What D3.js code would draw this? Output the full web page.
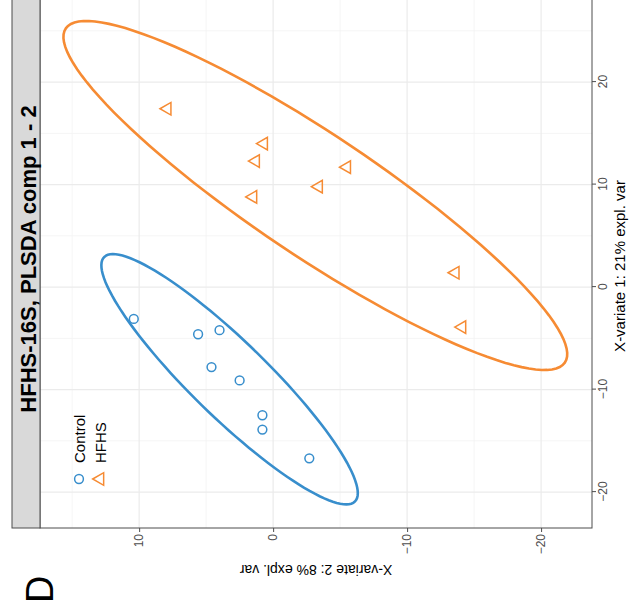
<!DOCTYPE html>
<html>
<head>
<meta charset="utf-8">
<script src="https://cdn.jsdelivr.net/npm/d3@7"></script>
<style>
  body { margin: 0; background: #fff; }
  svg { display: block; font-family: "Liberation Sans", Arial, sans-serif; }
</style>
</head>
<body>
<div id="chart"></div>
<script>
var groups = ["Control", "HFHS"];
var colors = ["#388ECC", "#F68B33"];

// sample scores (comp1 = X-variate 1, comp2 = X-variate 2)
var controlComp1 = [-3.1, -4.6, -4.2, -7.8, -9.1, -12.5, -13.9, -16.7];
var controlComp2 = [10.4, 5.6, 4.0, 4.6, 2.5, 0.8, 0.8, -2.7];
var hfhsComp1 = [17.4, 14.0, 12.3, 8.8, 9.8, 11.7, 1.4, -3.9];
var hfhsComp2 = [7.9, 0.7, 1.3, 1.5, -3.4, -5.5, -13.6, -14.1];

var comp1Ticks = [-20, -10, 0, 10, 20];
var comp2Ticks = [-20, -10, 0, 10];
var comp1Limits = [-23.5, 28.4];
var comp2Limits = [-23.8, 17.4];

var title = "HFHS-16S, PLSDA comp 1 - 2";
var xTitle = "X-variate 1: 21% expl. var";
var yTitle = "X-variate 2: 8% expl. var";

var W = 615, H = 635; // size of the upright plot, before the quarter turn
var pLeft = 87, pRight = 619, pTop = 40, pBottom = 592;

var svg = d3.select("#chart").append("svg")
  .attr("width", H)
  .attr("height", W);

// the figure is printed turned a quarter turn, so build it upright and rotate
var g = svg.append("g").attr("transform", "translate(0," + W + ") rotate(-90)");

var x = d3.scaleLinear().domain(comp1Limits).range([pLeft, pRight]);
var y = d3.scaleLinear().domain(comp2Limits).range([pBottom, pTop]);

// grid
var grid = g.append("g");
var minorX = x.ticks(10).filter(v => v % 10 !== 0);
var minorY = y.ticks(10).filter(v => v % 10 !== 0);
grid.selectAll(".mx").data(minorX).enter().append("line")
  .attr("x1", d => x(d)).attr("x2", d => x(d)).attr("y1", pTop).attr("y2", pBottom)
  .attr("stroke", "#F2F2F2").attr("stroke-width", 0.8);
grid.selectAll(".my").data(minorY).enter().append("line")
  .attr("y1", d => y(d)).attr("y2", d => y(d)).attr("x1", pLeft).attr("x2", pRight)
  .attr("stroke", "#F2F2F2").attr("stroke-width", 0.8);
grid.selectAll(".gx").data(comp1Ticks).enter().append("line")
  .attr("x1", d => x(d)).attr("x2", d => x(d)).attr("y1", pTop).attr("y2", pBottom)
  .attr("stroke", "#EBEBEB").attr("stroke-width", 1.2);
grid.selectAll(".gy").data(comp2Ticks).enter().append("line")
  .attr("y1", d => y(d)).attr("y2", d => y(d)).attr("x1", pLeft).attr("x2", pRight)
  .attr("stroke", "#EBEBEB").attr("stroke-width", 1.2);

// 95% confidence ellipse from the group's covariance
function ellipse(a, b) {
  var ma = d3.mean(a), mb = d3.mean(b);
  var saa = d3.variance(a), sbb = d3.variance(b);
  var sab = d3.sum(a, (v, i) => (v - ma) * (b[i] - mb)) / (a.length - 1);
  var t = Math.sqrt(-2 * Math.log(0.05));
  var tr = saa + sbb, det = saa * sbb - sab * sab;
  var root = Math.sqrt(tr * tr / 4 - det);
  var l1 = tr / 2 + root, l2 = tr / 2 - root;
  var th = Math.atan2(l1 - saa, sab);
  return d3.range(0, 120).map(function (k) {
    var p = 2 * Math.PI * k / 120;
    var u = t * Math.sqrt(l1) * Math.cos(p), w = t * Math.sqrt(l2) * Math.sin(p);
    return [ma + u * Math.cos(th) - w * Math.sin(th), mb + u * Math.sin(th) + w * Math.cos(th)];
  });
}

var line = d3.line().x(d => x(d[0])).y(d => y(d[1])).curve(d3.curveLinearClosed);

var series = [
  { name: groups[0], c1: controlComp1, c2: controlComp2, color: colors[0] },
  { name: groups[1], c1: hfhsComp1, c2: hfhsComp2, color: colors[1] }
];

var triangle = "M0,-7.3L6.3,3.65L-6.3,3.65Z";

series.forEach(function (s, si) {
  g.append("path")
    .attr("d", line(ellipse(s.c1, s.c2)))
    .attr("fill", "none")
    .attr("stroke", s.color)
    .attr("stroke-width", 2.6);

  var pts = g.append("g").selectAll("path")
    .data(s.c1.map((v, i) => [v, s.c2[i]]))
    .enter();
  if (si === 0) {
    pts.append("circle")
      .attr("cx", d => x(d[0])).attr("cy", d => y(d[1]))
      .attr("r", 4.4)
      .attr("fill", "none").attr("stroke", s.color).attr("stroke-width", 1.5);
  } else {
    pts.append("path")
      .attr("d", triangle)
      .attr("transform", d => "translate(" + x(d[0]) + "," + y(d[1]) + ")")
      .attr("fill", "none").attr("stroke", s.color).attr("stroke-width", 1.5);
  }
});

// legend
var legend = g.append("g").attr("transform", "translate(136,79)");
legend.append("circle").attr("r", 4.4)
  .attr("fill", "none").attr("stroke", colors[0]).attr("stroke-width", 1.5);
legend.append("path").attr("d", triangle).attr("transform", "translate(0,21)")
  .attr("fill", "none").attr("stroke", colors[1]).attr("stroke-width", 1.5);
legend.selectAll("text").data(groups).enter().append("text")
  .attr("x", 16).attr("y", (d, i) => i * 21 + 6)
  .attr("font-size", "15px").attr("fill", "#000")
  .text(d => d);

// panel border
g.append("rect")
  .attr("x", pLeft).attr("y", pTop)
  .attr("width", pRight - pLeft).attr("height", pBottom - pTop)
  .attr("fill", "none").attr("stroke", "#4D4D4D").attr("stroke-width", 1);

// title strip
g.append("rect")
  .attr("x", pLeft).attr("y", 12)
  .attr("width", pRight - pLeft).attr("height", pTop - 12)
  .attr("fill", "#D9D9D9").attr("stroke", "#4D4D4D").attr("stroke-width", 1);
g.append("text")
  .attr("x", (pLeft + pRight) / 2 + 3).attr("y", 36)
  .attr("text-anchor", "middle")
  .attr("font-size", "22px").attr("font-weight", "bold")
  .text(title);

// axes
var xAxis = g.append("g")
  .attr("transform", "translate(0," + pBottom + ")")
  .call(d3.axisBottom(x).tickValues(comp1Ticks).tickSize(4).tickPadding(2));
var yAxis = g.append("g")
  .attr("transform", "translate(" + pLeft + ",0)")
  .call(d3.axisLeft(y).tickValues(comp2Ticks).tickSize(4).tickPadding(2));
[xAxis, yAxis].forEach(function (a) {
  a.select(".domain").remove();
  a.selectAll("line").attr("stroke", "#4D4D4D");
  a.selectAll("text").attr("fill", "#4D4D4D").attr("font-size", "12px")
    .attr("font-family", "'Liberation Sans', Arial, sans-serif");
});

g.append("text")
  .attr("x", (pLeft + pRight) / 2 - 4).attr("y", 625)
  .attr("text-anchor", "middle").attr("font-size", "15px")
  .text(xTitle);
g.append("text")
  .attr("transform", "translate(50," + (pTop + pBottom) / 2 + ") rotate(-90)")
  .attr("text-anchor", "middle").attr("font-size", "14px")
  .text(yTitle);

// panel letter
g.append("text")
  .attr("x", 12).attr("y", 53)
  .attr("font-size", "38px")
  .text("D");
</script>
</body>
</html>
